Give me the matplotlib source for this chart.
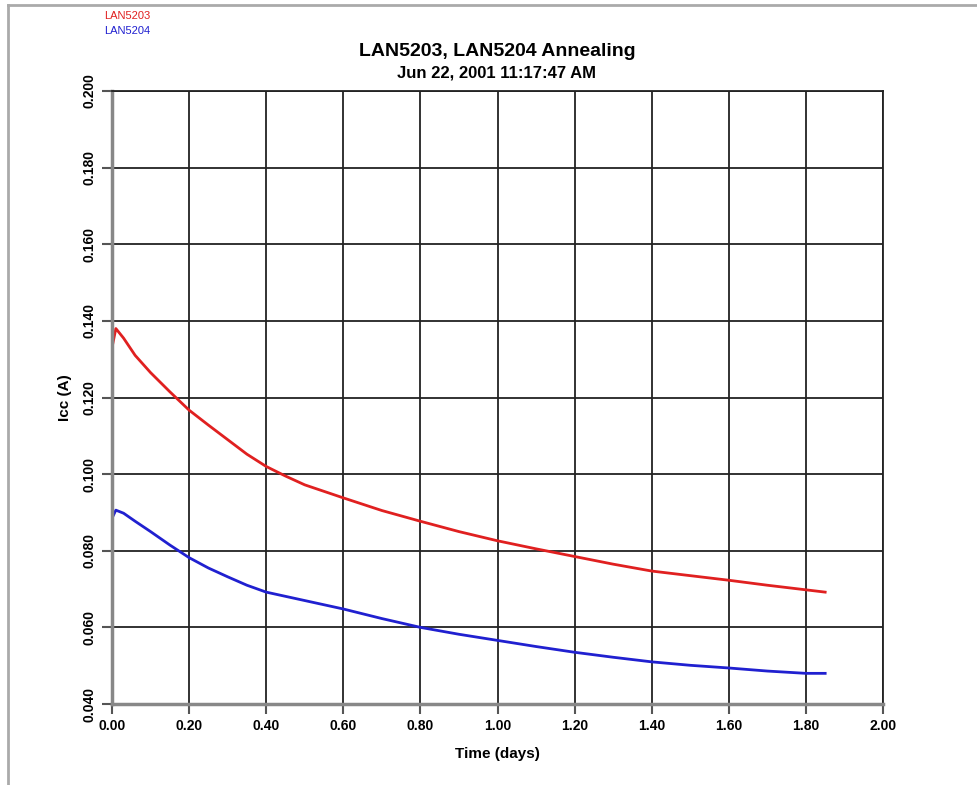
#!/usr/bin/env python3
# -*- coding: utf-8 -*-

import matplotlib
matplotlib.use('Agg')
import matplotlib.pyplot as plt
from matplotlib.lines import Line2D


plt.rcParams['font.family'] = ['Liberation Sans', 'DejaVu Sans']

# Annealing data (time in days, Icc in A)
time_5203 = [0.00, 0.01, 0.03, 0.06, 0.10, 0.15, 0.20, 0.25, 0.30, 0.35, 0.40,
             0.45, 0.50, 0.60, 0.70, 0.80, 0.90, 1.00, 1.10, 1.20, 1.30, 1.40,
             1.50, 1.60, 1.70, 1.80, 1.85]
icc_5203 = [0.1330, 0.1380, 0.1355, 0.1310, 0.1265, 0.1215, 0.1167, 0.1128,
            0.1090, 0.1052, 0.1020, 0.0995, 0.0972, 0.0938, 0.0905, 0.0877,
            0.0850, 0.0826, 0.0805, 0.0785, 0.0765, 0.0747, 0.0735, 0.0723,
            0.0710, 0.0698, 0.0692]

time_5204 = [0.00, 0.01, 0.03, 0.06, 0.10, 0.15, 0.20, 0.25, 0.30, 0.35, 0.40,
             0.50, 0.60, 0.70, 0.80, 0.90, 1.00, 1.10, 1.20, 1.30, 1.40,
             1.50, 1.60, 1.70, 1.80, 1.85]
icc_5204 = [0.0885, 0.0906, 0.0898, 0.0877, 0.0850, 0.0815, 0.0782, 0.0755,
            0.0732, 0.0710, 0.0692, 0.0670, 0.0648, 0.0623, 0.0600, 0.0582,
            0.0566, 0.0550, 0.0535, 0.0522, 0.0510, 0.0501, 0.0494, 0.0486,
            0.0480, 0.0480]

x_ticks = [0.00, 0.20, 0.40, 0.60, 0.80, 1.00, 1.20, 1.40, 1.60, 1.80, 2.00]
y_ticks = [0.040, 0.060, 0.080, 0.100, 0.120, 0.140, 0.160, 0.180, 0.200]


def main():
    fig = plt.figure(figsize=(9.77, 7.85), dpi=100)
    ax = fig.add_axes([112 / 977, 1 - 704 / 785, 771 / 977, 613 / 785])

    ax.plot(time_5203, icc_5203, color='#e02020', linewidth=2)
    ax.plot(time_5204, icc_5204, color='#2020d0', linewidth=2)

    ax.set_xlim(0, 2.0)
    ax.set_ylim(0.040, 0.200)
    ax.set_xticks(x_ticks)
    ax.set_yticks(y_ticks)
    ax.set_xticklabels([f'{t:.2f}' for t in x_ticks], fontweight='bold', fontsize=10)
    ax.set_yticklabels([f'{t:.3f}' for t in y_ticks], fontweight='bold',
                       fontsize=10, rotation=90, va='center')
    ax.tick_params(direction='out', length=7, width=1.5, color='#555555', pad=4)
    ax.grid(True, color='#222222', linewidth=1.3)
    ax.set_axisbelow(True)
    for side in ['left', 'bottom']:
        ax.spines[side].set_color('#888888')
        ax.spines[side].set_linewidth(2.5)
    for side in ['top', 'right']:
        ax.spines[side].set_color('#222222')
        ax.spines[side].set_linewidth(1.3)

    ax.set_xlabel('Time (days)', fontweight='bold', fontsize=11, labelpad=10)
    ax.set_ylabel('Icc (A)', fontweight='bold', fontsize=11, labelpad=8)

    fig.text(497 / 977, 1 - 51 / 785, 'LAN5203, LAN5204 Annealing',
             ha='center', va='center', fontweight='bold', fontsize=14)
    fig.text(497 / 977, 1 - 73 / 785, 'Jun 22, 2001 11:17:47 AM',
             ha='center', va='center', fontweight='bold', fontsize=12)

    fig.text(104 / 977, 1 - 16 / 785, 'LAN5203', color='#e02020',
             ha='left', va='center', fontsize=8)
    fig.text(104 / 977, 1 - 31 / 785, 'LAN5204', color='#2020d0',
             ha='left', va='center', fontsize=8)

    # grey page border along top and left edges
    fig.add_artist(Line2D([8 / 977, 1], [1 - 5 / 785, 1 - 5 / 785],
                          transform=fig.transFigure, color='#aaaaaa', linewidth=2))
    fig.add_artist(Line2D([8 / 977, 8 / 977], [0, 1 - 5 / 785],
                          transform=fig.transFigure, color='#aaaaaa', linewidth=2))

    fig.savefig('out.png', dpi=100)


if __name__ == '__main__':
    main()
